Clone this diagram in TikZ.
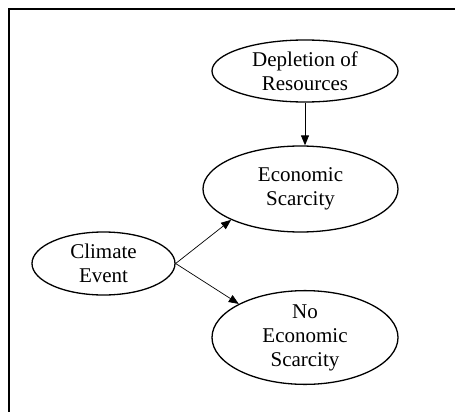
\documentclass[tikz,border=0pt]{standalone}
\usepackage{fontspec}
\setmainfont{Liberation Serif}
\usetikzlibrary{shapes.geometric,arrows.meta}

\begin{document}
\begin{tikzpicture}[x=1pt,y=-1pt,>={Triangle[length=10pt,width=8pt]},
  state/.style={draw,ellipse,line width=1.3pt,inner sep=0pt,align=center,font=\fontsize{21}{24}\selectfont}]
\useasboundingbox (0,0) rectangle (455,412);
\begin{scope}
  \clip (0,0) rectangle (455,412);
  \draw[line width=2pt] (9,9) rectangle (475,430);
\end{scope}
\node[state,minimum width=186pt,minimum height=62pt] (depl) at (305,71) {Depletion of\\Resources};
\node[state,minimum width=195pt,minimum height=86pt] (econ) at (300.5,189) {Economic\\Scarcity};
\node[state,minimum width=143pt,minimum height=63pt] (clim) at (103.5,263.5) {Climate\\Event};
\node[state,minimum width=186pt,minimum height=87pt] (noecon) at (305,337.5) {No\\Economic\\Scarcity};
\draw[->,line width=1pt] (depl.south) -- (depl.south |- econ.north);
\draw[->,line width=0.7pt] (clim.east) -- (econ.south west);
\draw[->,line width=0.7pt] (clim.east) -- (noecon.north west);
\end{tikzpicture}
\end{document}
